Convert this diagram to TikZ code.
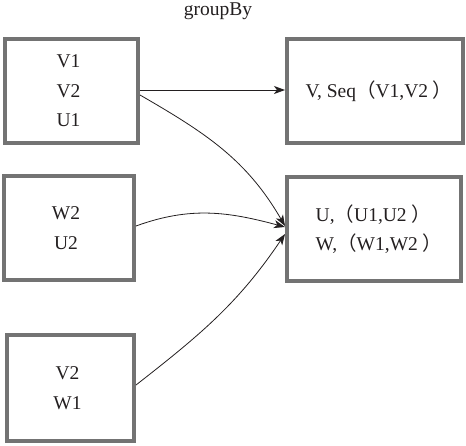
\documentclass[tikz,border=0pt]{standalone}
\usepackage{fontspec}
\setmainfont{Liberation Serif}
\newfontfamily\cjk{Noto Sans CJK SC}
\usetikzlibrary{arrows.meta}

\definecolor{boxgray}{RGB}{115,115,115}
\definecolor{ink}{RGB}{35,31,32}
\newcommand{\fwl}{{\cjk （}}
\newcommand{\fwr}{{\cjk ）}}

\begin{document}
\begin{tikzpicture}[x=1pt,y=1pt,
  box/.style={draw=boxgray, line width=4pt, inner sep=0pt},
  label/.style={text=ink, font=\fontsize{19.5}{29.5}\selectfont},
  flow/.style={draw=ink, line width=0.8pt, -{Stealth[length=11pt,width=8pt,inset=3pt]}}]

  \useasboundingbox (0,0) rectangle (466,-445);

  %title
  \node[label] (title) at (218,-11) {groupBy};

  %boxes
  \foreach \x/\y/\w/\h/\dx/\al/\txt/\name in {71.5/-91/133/104/-3/center/{V1\\V2\\U1}/A,
                                       69/-228/130/104/-3/center/{W2\\U2}/B,
                                       70.5/-388/127/106/-3/center/{V2\\W1}/C,
                                       375/-91/176/104/4/center/{V, Seq\fwl V1,V2 \fwr}/D,
                                       374/-229/174/104/5/left/{U,\fwl U1,U2 \fwr\\W,\fwl W1,W2 \fwr}/E}{
      \node[box, minimum width=\w, minimum height=\h] (\name) at (\x,\y) {};
      \node[label, align=\al] (\name txt) at ([xshift=\dx]\name.center) {\txt};
  }

  %arrows
  \draw[flow] ([yshift=1pt]A.east) -- ([yshift=1pt]D.west);
  \draw[flow] ([yshift=-4pt]A.east) to[out=-30, in=120] ([yshift=3pt]E.west);
  \draw[flow] ([yshift=2pt]B.east) to[out=20, in=165] ([yshift=2pt]E.west);
  \draw[flow] ([yshift=3pt]C.east) to[out=38, in=-124] ([yshift=-5pt]E.west);

\end{tikzpicture}
\end{document}
